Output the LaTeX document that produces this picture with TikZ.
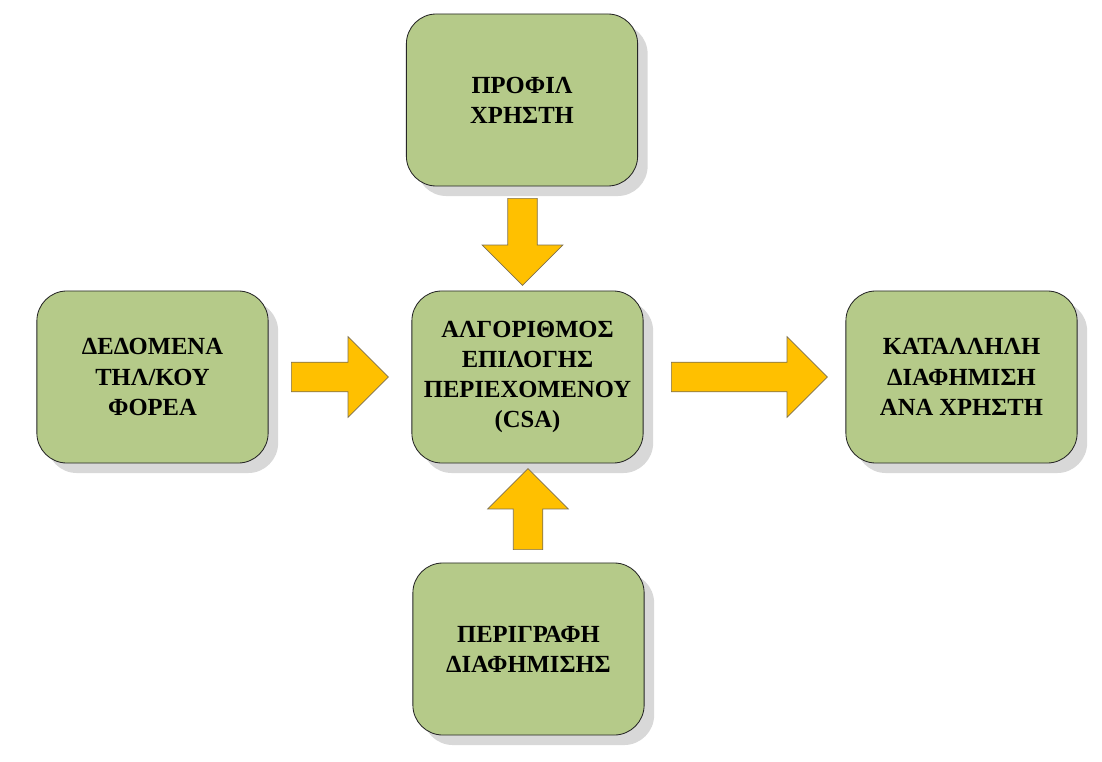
\documentclass[tikz,border=0pt]{standalone}
\usepackage{fontspec}
\setmainfont{Liberation Serif}
\usetikzlibrary{shapes.arrows,shadows}

\definecolor{boxgreen}{RGB}{181,202,137}
\definecolor{arrowyellow}{RGB}{255,192,0}
\definecolor{arrowedge}{RGB}{125,112,80}
\definecolor{shadowgray}{RGB}{216,216,216}

\tikzset{
  block/.style={draw=black!85, fill=boxgreen, line width=0.6pt,
    rounded corners=0.75cm, minimum width=5.78cm, minimum height=4.3cm,
    align=center, inner sep=0pt,
    drop shadow={shadow xshift=0.25cm, shadow yshift=-0.25cm,
      fill=shadowgray, opacity=1}},
  fatarrow/.style={single arrow, draw=arrowedge, fill=arrowyellow,
    line width=0.5pt, inner xsep=0pt, inner ysep=0.36cm,
    single arrow head extend=0.64cm, single arrow tip angle=90}
}

\begin{document}
\begin{tikzpicture}[x=0.025cm, y=-0.025cm,
    font=\fontsize{17.5}{21.5}\selectfont\bfseries]
  \useasboundingbox (0,0) rectangle (1102,761);

  % boxes
  \node[block] (profile) at (522,100) {ΠΡΟΦΙΛ\\ΧΡΗΣΤΗ};
  \node[block] (csa) at (527.5,377)
    {ΑΛΓΟΡΙΘΜΟΣ\\ΕΠΙΛΟΓΗΣ\\ΠΕΡΙΕΧΟΜΕΝΟΥ\\(CSA)};
  \node[block] (data) at (152.5,377) {ΔΕΔΟΜΕΝΑ\\ΤΗΛ/ΚΟΥ\\ΦΟΡΕΑ};
  \node[block] (advert) at (961.5,377) {ΚΑΤΑΛΛΗΛΗ\\ΔΙΑΦΗΜΙΣΗ\\ΑΝΑ ΧΡΗΣΤΗ};
  \node[block] (descr) at (528.5,649) {ΠΕΡΙΓΡΑΦΗ\\ΔΙΑΦΗΜΙΣΗΣ};

  % arrows
  \node[fatarrow, rotate=-90, minimum height=2.175cm] (profile-csa) at (522.5,234.5) {};
  \node[fatarrow, minimum height=2.425cm] (data-csa) at (332.5,377) {};
  \node[fatarrow, minimum height=3.9cm] (csa-advert) at (742,377) {};
  \node[fatarrow, rotate=90, minimum height=2.025cm] (descr-csa) at (528,516.5) {};
\end{tikzpicture}
\end{document}
